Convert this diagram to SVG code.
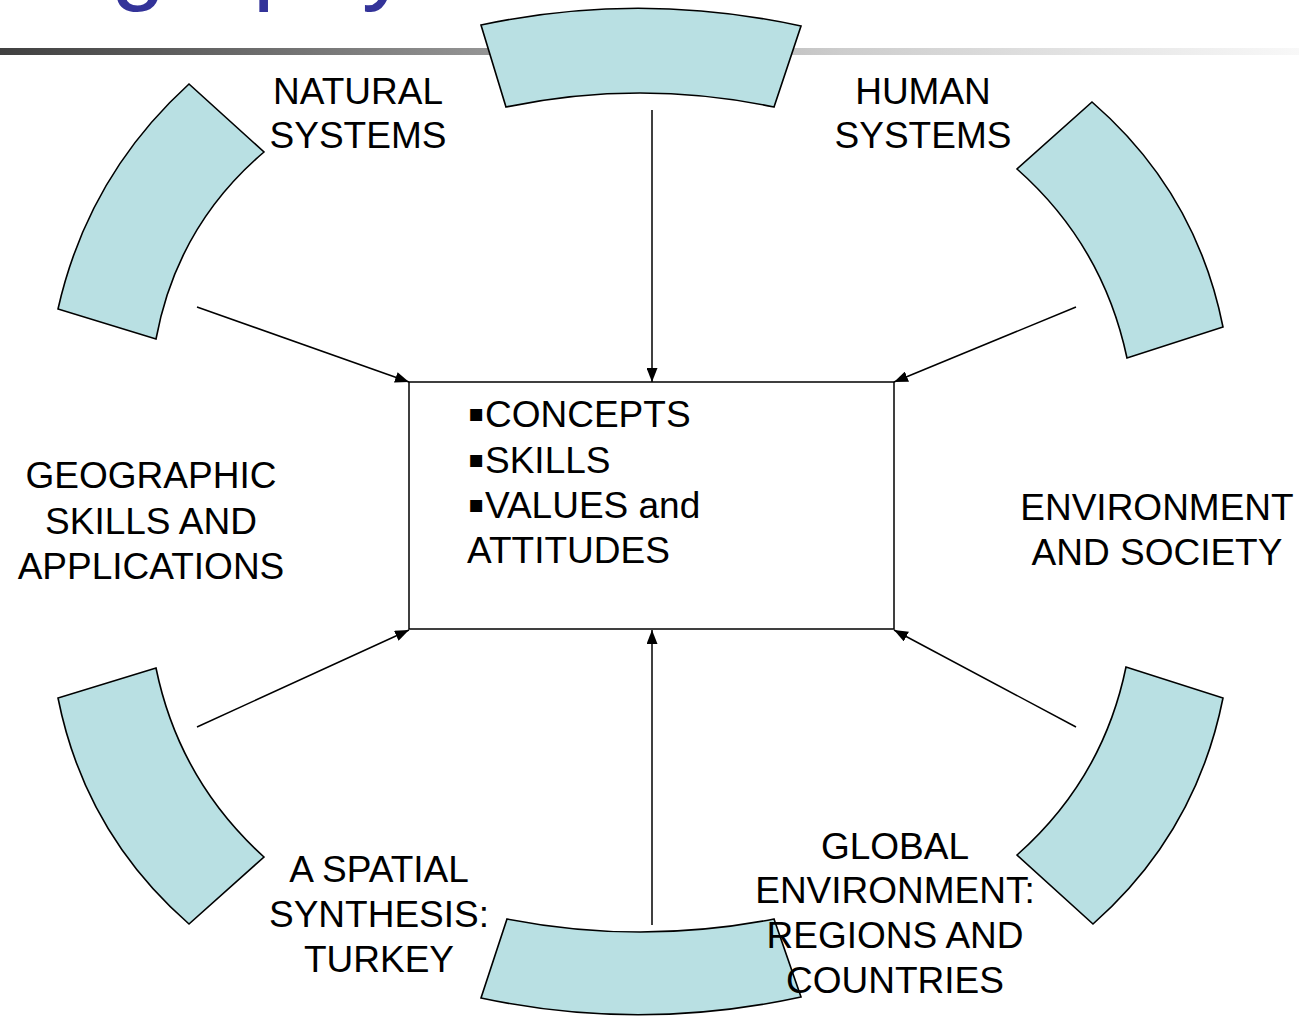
<svg xmlns="http://www.w3.org/2000/svg" width="1299" height="1016" viewBox="0 0 1299 1016">
  <defs>
    <linearGradient id="rule" x1="0" y1="0" x2="1" y2="0">
      <stop offset="0" stop-color="#404040"/>
      <stop offset="0.4" stop-color="#9a9a9a"/>
      <stop offset="0.65" stop-color="#cdcdcd"/>
      <stop offset="1" stop-color="#f8f8f8"/>
    </linearGradient>
    <marker id="head" viewBox="0 0 14 11" refX="14" refY="5.5" markerWidth="14" markerHeight="11" markerUnits="userSpaceOnUse" orient="auto">
      <path d="M0,0 L14,5.5 L0,11 Z" fill="#000"/>
    </marker>
    <style>
      .seg { fill: #b9e0e3; stroke: #000; stroke-width: 1.6; stroke-linejoin: miter; }
      .lbl { font-family: "Liberation Sans", Arial, sans-serif; font-size: 37px; fill: #000; text-anchor: middle; }
      .box-txt { font-family: "Liberation Sans", Arial, sans-serif; font-size: 37px; fill: #000; }
      .bul { font-family: "DejaVu Sans", sans-serif; font-size: 24px; }
      .conn line { stroke: #000; stroke-width: 1.5; marker-end: url(#head); }
    </style>
  </defs>

  <rect width="1299" height="1016" fill="#fff"/>

  <!-- slide title, mostly above the visible area -->
  <text x="111" y="-8" font-family="'Liberation Sans', Arial, sans-serif" font-size="98" fill="#333399">graphy</text>
  <!-- title rule -->
  <rect x="0" y="48" width="1299" height="7" fill="url(#rule)"/>

  <!-- ring segments -->
  <g id="seg-top">
    <path class="seg" d="M481,25 Q640,-9 801,26 L774,107 Q640,79 506,107 Z"/>
  </g>
  <g id="seg-top-left">
    <path class="seg" d="M189,84 Q88,176 58,309 L156,339 Q177,226 264,152 Z"/>
  </g>
  <g id="seg-top-right">
    <path class="seg" d="M1092,102 Q1196,192 1223,327 L1127,358 Q1103,245 1017,169 Z"/>
  </g>
  <g id="seg-bottom-left">
    <path class="seg" d="M58,698 Q85,833 189,924 L264,857 Q179,780 156,668 Z"/>
  </g>
  <g id="seg-bottom-right">
    <path class="seg" d="M1223,698 Q1196,833 1093,924 L1017,855 Q1103,779 1126,667 Z"/>
  </g>
  <g id="seg-bottom">
    <path class="seg" d="M507,919 Q640,945 774,919 L801,997 Q640,1032 481,998 Z"/>
  </g>

  <!-- central box -->
  <g id="core">
    <rect x="409" y="382" width="485" height="247" fill="#fff" stroke="#000" stroke-width="1.5"/>
    <text class="box-txt" y="427"><tspan class="bul" x="468" dy="-6">▪</tspan><tspan x="485" dy="6">CONCEPTS</tspan></text>
    <text class="box-txt" y="473"><tspan class="bul" x="468" dy="-6">▪</tspan><tspan x="485" dy="6">SKILLS</tspan></text>
    <text class="box-txt" y="518"><tspan class="bul" x="468" dy="-6">▪</tspan><tspan x="485" dy="6">VALUES and</tspan></text>
    <text class="box-txt" x="467" y="563">ATTITUDES</text>
  </g>

  <!-- connectors -->
  <g id="connectors" class="conn">
    <line x1="652" y1="110" x2="652" y2="382"/>
    <line x1="652" y1="925" x2="652" y2="630"/>
    <line x1="197" y1="307" x2="409" y2="382"/>
    <line x1="1076" y1="307" x2="894" y2="382"/>
    <line x1="197" y1="727" x2="409" y2="630"/>
    <line x1="1076" y1="727" x2="894" y2="630"/>
  </g>

  <!-- labels -->
  <g id="natural-systems">
    <text class="lbl" x="358" y="104">NATURAL</text>
    <text class="lbl" x="358" y="148">SYSTEMS</text>
  </g>
  <g id="human-systems">
    <text class="lbl" x="923" y="104">HUMAN</text>
    <text class="lbl" x="923" y="148">SYSTEMS</text>
  </g>
  <g id="geographic-skills">
    <text class="lbl" x="151" y="488">GEOGRAPHIC</text>
    <text class="lbl" x="151" y="534">SKILLS AND</text>
    <text class="lbl" x="151" y="579">APPLICATIONS</text>
  </g>
  <g id="environment-society">
    <text class="lbl" x="1157" y="520">ENVIRONMENT</text>
    <text class="lbl" x="1157" y="565">AND SOCIETY</text>
  </g>
  <g id="spatial-synthesis">
    <text class="lbl" x="379" y="882">A SPATIAL</text>
    <text class="lbl" x="379" y="927">SYNTHESIS:</text>
    <text class="lbl" x="379" y="972">TURKEY</text>
  </g>
  <g id="global-environment">
    <text class="lbl" x="895" y="859">GLOBAL</text>
    <text class="lbl" x="895" y="903">ENVIRONMENT:</text>
    <text class="lbl" x="895" y="948">REGIONS AND</text>
    <text class="lbl" x="895" y="993">COUNTRIES</text>
  </g>
</svg>
